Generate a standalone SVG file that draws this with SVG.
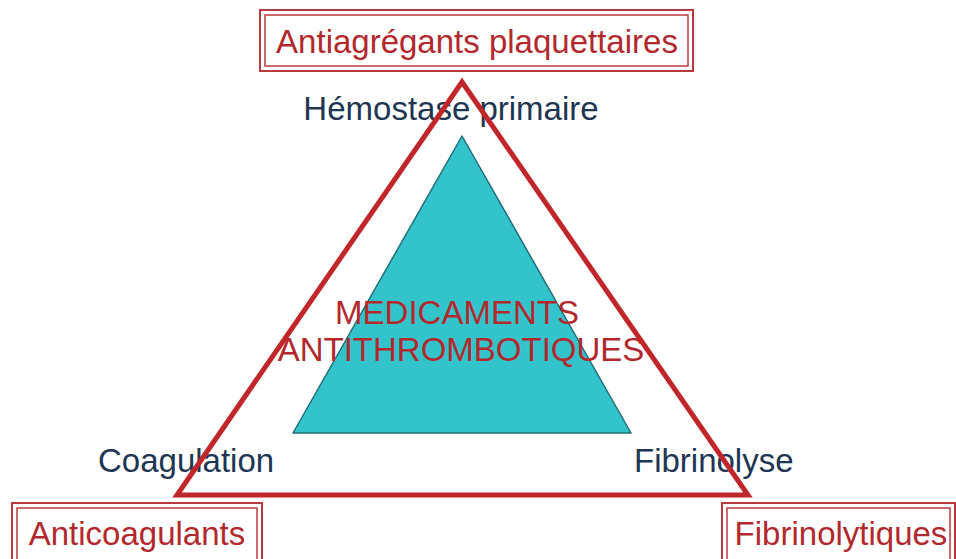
<svg xmlns="http://www.w3.org/2000/svg" width="956" height="559" viewBox="0 0 956 559">
<style>
.lbl{font-family:"Liberation Sans",Arial,sans-serif;font-size:33px}
.red{fill:#B3282D}
.navy{fill:#1E3653}
.boxo{fill:#fff;stroke:#B83A3C;stroke-width:2}
.boxi{fill:none;stroke:#B83A3C;stroke-width:1.5}
</style>
<rect width="956" height="559" fill="#fff"/>
<g id="box-antiagregants">
<rect class="boxo" x="260" y="10" width="433" height="61"/>
<rect class="boxi" x="265" y="15" width="423" height="51"/>
<text class="lbl red" x="477" y="53" text-anchor="middle">Antiagrégants plaquettaires</text>
</g>
<g id="box-anticoagulants">
<rect class="boxo" x="12" y="503" width="250" height="70"/>
<rect class="boxi" x="17" y="508" width="240" height="60"/>
<text class="lbl red" x="137" y="545" text-anchor="middle">Anticoagulants</text>
</g>
<g id="box-fibrinolytiques">
<rect class="boxo" x="722" y="503" width="233" height="70"/>
<rect class="boxi" x="727" y="508" width="223" height="60"/>
<text class="lbl red" x="841" y="545" text-anchor="middle">Fibrinolytiques</text>
</g>
<g id="hemostase-triangle">
<polygon points="462,136 293,433 631,433" fill="#33C4CB" stroke="#1F6F78" stroke-width="1.5" stroke-linejoin="round"/>
<text class="lbl red" x="457" y="324" text-anchor="middle">MEDICAMENTS</text>
<text class="lbl red" x="461" y="361" text-anchor="middle">ANTITHROMBOTIQUES</text>
</g>
<g id="label-hemostase"><text class="lbl navy" x="451" y="120" text-anchor="middle">Hémostase primaire</text></g>
<g id="label-coagulation"><text class="lbl navy" x="98" y="472">Coagulation</text></g>
<g id="label-fibrinolyse"><text class="lbl navy" x="634" y="472">Fibrinolyse</text></g>
<g id="connectors">
<polygon points="462,82 177,495 748,495" fill="none" stroke="#C0262A" stroke-width="5" stroke-linejoin="miter"/>
</g>
</svg>
